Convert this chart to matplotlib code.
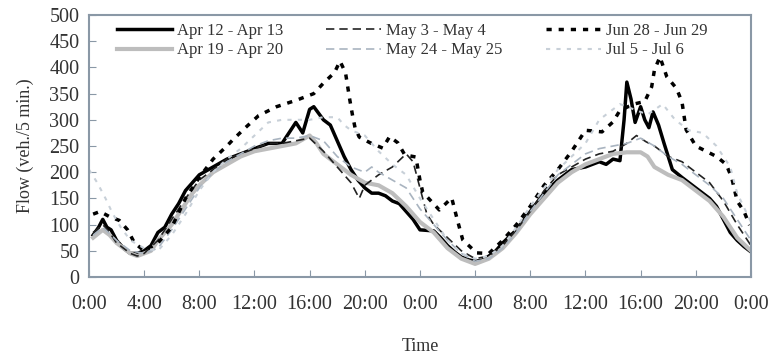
import matplotlib
matplotlib.use("Agg")
from matplotlib import pyplot as plt

# hours since 0:00 of first day, flow in veh./5 min.
apr12_t = [0.3, 0.7, 1, 1.3, 1.6, 2, 2.5, 3, 3.5, 4, 4.5, 5, 5.5, 6, 6.5, 7, 7.5, 8, 9, 10, 11, 12, 13, 14,
           14.5, 15, 15.5, 16, 16.3, 17, 17.5, 18, 18.5, 19, 19.5, 20, 20.5, 21, 21.5, 22, 22.5, 23, 23.5, 24,
           25, 25.5, 26, 26.5, 27, 27.5, 28, 28.5, 29, 29.5, 30, 31, 32, 33, 34, 35, 36, 37, 37.5, 38, 38.5,
           38.8, 39, 39.3, 39.6, 40, 40.3, 40.6, 40.9, 41.3, 41.7, 42.3, 43, 44, 45, 45.5, 46, 46.5, 47, 47.5, 48]
apr12_v = [80, 95, 110, 95, 90, 70, 55, 45, 45, 50, 60, 85, 95, 120, 140, 165, 180, 195, 210, 225, 235, 245, 255, 255,
           275, 295, 275, 320, 325, 300, 290, 260, 230, 205, 185, 170, 160, 160, 155, 145, 140, 125, 110, 90,
           88, 75, 60, 48, 38, 33, 30, 32, 40, 50, 65, 90, 125, 160, 185, 205, 210, 220, 215, 225, 222,
           300, 372, 340, 295, 325, 300, 285, 315, 290, 255, 205, 190, 170, 150, 135, 110, 85, 70, 58, 48]

apr19_t = [0.3, 1, 1.5, 2, 2.5, 3, 3.5, 4, 4.5, 5, 5.5, 6, 6.5, 7, 7.5, 8, 9, 10, 11, 12, 13, 14, 15, 16, 16.5,
           17, 18, 19, 20, 21, 22, 23, 24, 25, 26, 27, 28, 29, 30, 31, 32, 33, 34, 35, 36, 37, 38, 39, 40,
           40.5, 41, 42, 43, 44, 45, 46, 47, 48]
apr19_v = [75, 90, 80, 65, 55, 45, 40, 45, 50, 70, 85, 100, 120, 140, 160, 175, 200, 215, 230, 240, 245, 250, 255, 270, 255,
           235, 215, 195, 180, 175, 160, 135, 105, 85, 55, 35, 25, 35, 55, 85, 120, 150, 180, 200, 215, 225, 235, 238, 238,
           230, 210, 195, 185, 165, 145, 115, 75, 50]

may3_t = [0.3, 1, 1.5, 2, 3, 3.5, 4, 5, 6, 7, 8, 9, 10, 11, 12, 13, 14, 15, 16, 17, 18, 19, 19.6, 20, 21, 22,
          23, 23.5, 24, 24.5, 25, 26, 27, 28, 29, 30, 31, 32, 33, 34, 35, 36, 37, 38, 39, 39.7, 40.4, 41, 42,
          43, 44, 45, 46, 47, 48]
may3_v = [85, 100, 85, 65, 45, 40, 45, 70, 110, 150, 185, 205, 225, 235, 245, 255, 255, 260, 265, 240, 210, 180, 150, 175, 195, 210,
          235, 220, 170, 120, 100, 75, 50, 35, 40, 60, 90, 125, 165, 195, 210, 225, 235, 240, 255, 270, 258, 250, 230,
          220, 200, 180, 145, 100, 60]

may24_t = [0.3, 1, 2, 3, 4, 5, 6, 7, 8, 9, 10, 11, 12, 13, 14, 15, 16, 17, 18, 19, 20, 20.5, 21, 22, 23, 24, 25,
           26, 27, 28, 29, 30, 31, 32, 33, 34, 35, 36, 37, 38, 39, 40, 41, 42, 43, 44, 45, 46, 47, 48]
may24_v = [80, 95, 70, 50, 45, 55, 90, 130, 170, 200, 220, 235, 250, 260, 265, 265, 270, 260, 230, 210, 200, 210, 200, 185, 170, 130, 100,
           70, 45, 30, 35, 55, 85, 125, 160, 195, 215, 235, 245, 250, 255, 265, 250, 230, 215, 195, 175, 150, 110, 70]

jun28_t = [0.3, 0.8, 1.5, 2.2, 2.8, 3.3, 4, 5, 6, 7, 8, 9, 10, 10.4, 11.3, 12.3, 13.6, 15.1, 16.3, 17, 17.8, 18.2,
           18.6, 18.9, 19.1, 19.3, 19.6, 20.4, 21.3, 21.8, 22.4, 22.9, 23.7, 24, 24.2, 25.4, 26.3, 26.7, 27.1,
           28.1, 29, 30, 31, 32, 33, 34, 35, 36, 37.2, 38, 38.5, 39.5, 40.3, 40.8, 41, 41.4, 41.9, 42.6, 43,
           43.3, 44, 45.5, 46.2, 46.6, 47, 47.5, 47.9]
jun28_v = [120, 125, 115, 108, 90, 65, 50, 65, 95, 150, 190, 225, 250, 261, 284, 308, 325, 338, 350, 370, 390, 412,
           390, 340, 310, 284, 267, 256, 246, 268, 256, 233, 229, 185, 162, 128, 151, 110, 71,
           46, 45, 70, 100, 135, 175, 205, 240, 280, 277, 296, 318, 330, 335, 363, 395, 420, 382, 360, 334,
           281, 250, 230, 215, 190, 145, 125, 99]

jul5_t = [0, 0.6, 1.2, 1.7, 2.3, 3, 4, 5, 6, 7, 8, 9, 10, 11, 12, 13, 14, 15, 16, 17, 18, 18.5, 19, 20, 21, 22,
          23, 24, 25, 26, 27, 28, 29, 30, 31, 32, 33, 34, 35, 36, 37, 38, 38.5, 39.5, 40.5, 41.6, 42.5, 43.5,
          44.5, 45.5, 46.5, 47, 48]
jul5_v = [205, 180, 150, 122, 95, 70, 55, 50, 80, 120, 165, 200, 225, 245, 270, 295, 300, 300, 300, 305, 305, 290, 280, 270, 240, 215,
          195, 150, 110, 70, 45, 35, 40, 60, 95, 135, 170, 205, 230, 255, 300, 320, 330, 320, 310, 330, 300, 280,
          275, 250, 210, 160, 105]

labels = ["Apr 12 - Apr 13", "Apr 19 - Apr 20", "May 3 - May 4",
          "May 24 - May 25", "Jun 28 - Jun 29", "Jul 5 - Jul 6"]
tick_hours = list(range(0, 49, 4))
tick_labels = ["0:00", "4:00", "8:00", "12:00", "16:00", "20:00", "0:00",
               "4:00", "8:00", "12:00", "16:00", "20:00", "0:00"]

plt.rcParams['font.family'] = ['Liberation Serif', 'DejaVu Serif']
text_color = '#333333'
spine_color = '#8a98a6'

fig = plt.figure(figsize=(7.71, 3.55), dpi=100)
ax = fig.add_axes([0.1154, 0.2197, 0.8586, 0.738])

ax.plot(apr12_t, apr12_v, color='black', lw=2.5, label=labels[0])
ax.plot(apr19_t, apr19_v, color='#bdbdbd', lw=3, label=labels[1])
ax.plot(may3_t, may3_v, color='#222222', lw=1.2, dashes=(5, 3), label=labels[2])
ax.plot(may24_t, may24_v, color='#a9b4c0', lw=1.2, dashes=(5, 3), label=labels[3])
ax.plot(jun28_t, jun28_v, color='black', lw=2.5, dashes=(1.5, 2), label=labels[4])
ax.plot(jul5_t, jul5_v, color='#c8d0d8', lw=1.5, dashes=(2, 3), label=labels[5])

ax.set_xlim(0, 48)
ax.set_ylim(0, 500)
ax.set_xticks(tick_hours)
ax.set_xticklabels(tick_labels)
ax.set_yticks(range(0, 501, 50))
ax.tick_params(direction='in', length=5, color=spine_color, labelcolor=text_color,
               labelsize=14.5, pad=7)
ax.tick_params(axis='x', pad=13)
for s in ax.spines.values():
    s.set_color(spine_color)
    s.set_linewidth(1.5)

ax.set_xlabel("Time", fontsize=13, color=text_color, labelpad=17)
ax.set_ylabel("Flow (veh./5 min.)", fontsize=13, color=text_color, labelpad=11)

leg = ax.legend(ncol=3, loc='upper left', bbox_to_anchor=(0.022, 1.02), frameon=False,
                fontsize=12, handlelength=3.3, handletextpad=0.3,
                columnspacing=2.6, labelspacing=0.2, borderpad=0.3)
for t in leg.get_texts():
    t.set_color(text_color)

fig.savefig("out.png", dpi=100)
